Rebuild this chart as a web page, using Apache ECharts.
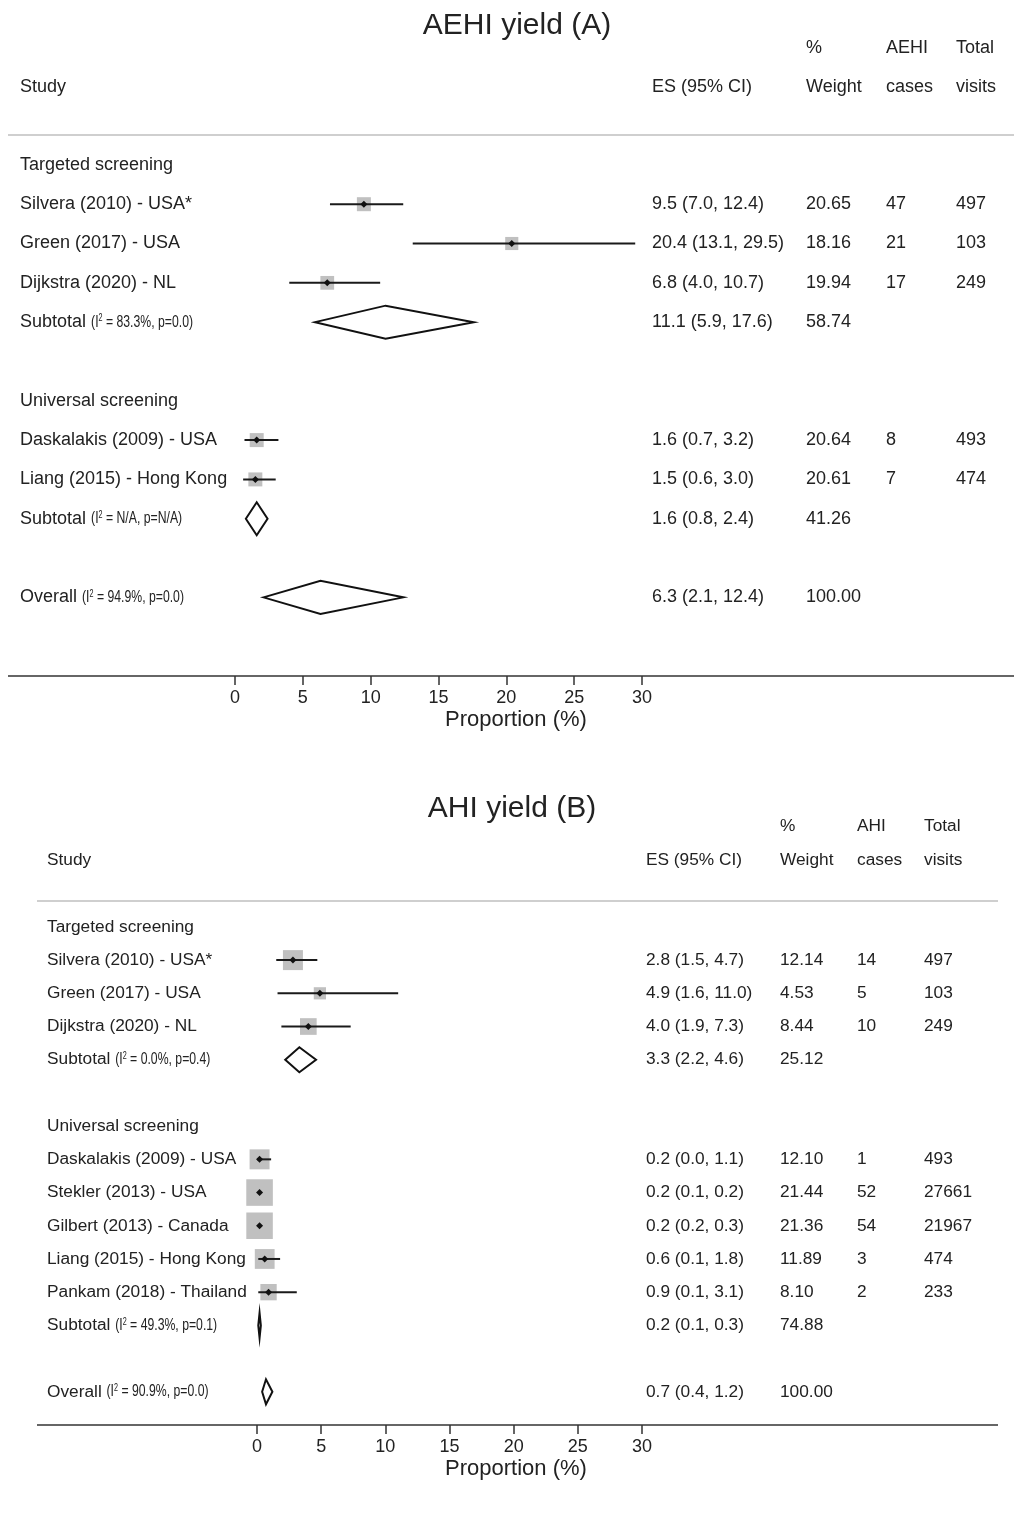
<!DOCTYPE html>
<html>
<head>
<meta charset="utf-8">
<script src="https://cdn.jsdelivr.net/npm/echarts@6/dist/echarts.min.js"></script>
<style>
html, body { margin: 0; background: #fff; }
#main { width: 1014px; height: 1517px; }
</style>
</head>
<body>
<div id="main"></div>
<script>
// ---- AEHI yield (A) ----
var groupsA = ['Targeted screening', 'Universal screening'];
var studiesA = ['Silvera (2010) - USA*', 'Green (2017) - USA', 'Dijkstra (2020) - NL', 'Daskalakis (2009) - USA', 'Liang (2015) - Hong Kong'];
var studyGroupA = [0, 0, 0, 1, 1];
var esA = [9.5, 20.4, 6.8, 1.6, 1.5];
var lowA = [7.0, 13.1, 4.0, 0.7, 0.6];
var highA = [12.4, 29.5, 10.7, 3.2, 3.0];
var weightA = [20.65, 18.16, 19.94, 20.64, 20.61];
var casesA = [47, 21, 17, 8, 7];
var visitsA = [497, 103, 249, 493, 474];
var subEsA = [11.1, 1.6];
var subLowA = [5.9, 0.8];
var subHighA = [17.6, 2.4];
var subWeightA = [58.74, 41.26];
var subI2A = ['83.3%', 'N/A'];
var subPA = ['0.0', 'N/A'];
var overallA = [6.3, 2.1, 12.4];
var overallHetA = ['94.9%', '0.0'];

// ---- AHI yield (B) ----
var groupsB = ['Targeted screening', 'Universal screening'];
var studiesB = ['Silvera (2010) - USA*', 'Green (2017) - USA', 'Dijkstra (2020) - NL', 'Daskalakis (2009) - USA', 'Stekler (2013) - USA', 'Gilbert (2013) - Canada', 'Liang (2015) - Hong Kong', 'Pankam (2018) - Thailand'];
var studyGroupB = [0, 0, 0, 1, 1, 1, 1, 1];
var esB = [2.8, 4.9, 4.0, 0.2, 0.2, 0.2, 0.6, 0.9];
var lowB = [1.5, 1.6, 1.9, 0.0, 0.1, 0.2, 0.1, 0.1];
var highB = [4.7, 11.0, 7.3, 1.1, 0.2, 0.3, 1.8, 3.1];
var weightB = [12.14, 4.53, 8.44, 12.10, 21.44, 21.36, 11.89, 8.10];
var casesB = [14, 5, 10, 1, 52, 54, 3, 2];
var visitsB = [497, 103, 249, 493, 27661, 21967, 474, 233];
var subEsB = [3.3, 0.2];
var subLowB = [2.2, 0.1];
var subHighB = [4.6, 0.3];
var subWeightB = [25.12, 74.88];
var subI2B = ['0.0%', '49.3%'];
var subPB = ['0.4', '0.1'];
var overallB = [0.7, 0.4, 1.2];
var overallHetB = ['90.9%', '0.0'];

var tickValues = [0, 5, 10, 15, 20, 25, 30];

var FONT = "'Liberation Sans', Arial, Helvetica, sans-serif";
var TXT = '#222';
var measure = document.createElement('canvas').getContext('2d');
function textWidth(s, size) {
  measure.font = size + 'px ' + FONT;
  return measure.measureText(s).width;
}

function buildRows(d) {
  var rows = [], r = 0;
  d.groups.forEach(function (g, gi) {
    rows.push({ row: r++, kind: 'group', label: g });
    d.studyGroup.forEach(function (sg, i) {
      if (sg !== gi) return;
      rows.push({ row: r++, kind: 'study', label: d.studies[i], es: d.es[i], lo: d.low[i], hi: d.high[i],
        w: d.weight[i], cases: d.cases[i], visits: d.visits[i] });
    });
    rows.push({ row: r++, kind: 'pool', label: 'Subtotal', i2: d.subI2[gi], p: d.subP[gi],
      es: d.subEs[gi], lo: d.subLow[gi], hi: d.subHigh[gi], w: d.subWeight[gi] });
    r++; // blank line between blocks
  });
  rows.push({ row: r, kind: 'pool', label: 'Overall', i2: d.overallHet[0], p: d.overallHet[1],
    es: d.overall[0], lo: d.overall[1], hi: d.overall[2], w: 100 });
  return rows;
}

var rowsA = buildRows({ groups: groupsA, studies: studiesA, studyGroup: studyGroupA, es: esA, low: lowA, high: highA,
  weight: weightA, cases: casesA, visits: visitsA, subEs: subEsA, subLow: subLowA, subHigh: subHighA,
  subWeight: subWeightA, subI2: subI2A, subP: subPA, overall: overallA, overallHet: overallHetA });
var rowsB = buildRows({ groups: groupsB, studies: studiesB, studyGroup: studyGroupB, es: esB, low: lowB, high: highB,
  weight: weightB, cases: casesB, visits: visitsB, subEs: subEsB, subLow: subLowB, subHigh: subHighB,
  subWeight: subWeightB, subI2: subI2B, subP: subPB, overall: overallB, overallHet: overallHetB });

// layout of each panel (pixels)
var layoutA = { title: 'AEHI yield (A)', casesHead: 'AEHI', titleX: 517, titleY: 26, head1Y: 48, head2Y: 87,
  colStudy: 20, colEs: 652, colW: 806, colC: 886, colV: 956, ruleL: 8, ruleR: 1014, nameX: 516,
  font: 18, boxK: 3.08, diamondH: 16.5 };
var layoutB = { title: 'AHI yield (B)', casesHead: 'AHI', titleX: 512, titleY: 809, head1Y: 826, head2Y: 860,
  colStudy: 47, colEs: 646, colW: 780, colC: 857, colV: 924, ruleL: 37, ruleR: 998, nameX: 516,
  font: 17.3, boxK: 5.74, diamondH: 12.5 };

function txt(x, y, s, size, align) {
  return { type: 'text', x: x, y: y, silent: true,
    style: { text: s, fill: TXT, fontSize: size || 18, fontFamily: FONT,
      align: align || 'left', verticalAlign: 'middle', textAlign: align || 'left', textVerticalAlign: 'middle' } };
}

// condensed "(I² = .., p=..)" part
function hetText(x, y, i2, p) {
  return { type: 'text', x: x, y: y, scaleX: 0.72, silent: true,
    style: { text: '{n|(I}{s|2}{n| = ' + i2 + ', p=' + p + ')}', fill: TXT,
      align: 'left', verticalAlign: 'middle', textAlign: 'left', textVerticalAlign: 'middle',
      rich: { n: { fontSize: 17, fontFamily: FONT, fill: TXT },
              s: { fontSize: 10, fontFamily: FONT, fill: TXT, verticalAlign: 'top' } } } };
}

function rowRenderer(rows, L) {
  return function (params, api) {
    var r = rows[params.dataIndex];
    var y = api.coord([0, r.row])[1];
    var kids = [];
    if (r.kind === 'group') {
      kids.push(txt(L.colStudy, y, r.label, L.font));
      return { type: 'group', children: kids };
    }
    var xc = api.coord([r.es, r.row])[0];
    var xl = api.coord([r.lo, r.row])[0];
    var xh = api.coord([r.hi, r.row])[0];
    if (r.kind === 'study') {
      var s = L.boxK * Math.sqrt(r.w);
      kids.push({ type: 'rect', shape: { x: xc - s / 2, y: y - s / 2, width: s, height: s }, style: { fill: '#c0c0c0' } });
      kids.push({ type: 'line', shape: { x1: xl, y1: y, x2: xh, y2: y }, style: { stroke: '#1a1a1a', lineWidth: 2 } });
      kids.push({ type: 'polygon', shape: { points: [[xc - 3.5, y], [xc, y - 3.5], [xc + 3.5, y], [xc, y + 3.5]] }, style: { fill: '#111' } });
      kids.push(txt(L.colStudy, y, r.label, L.font));
      kids.push(txt(L.colC, y, String(r.cases), L.font));
      kids.push(txt(L.colV, y, String(r.visits), L.font));
    } else {
      var h = L.diamondH;
      kids.push({ type: 'polygon', shape: { points: [[xl, y], [xc, y - h], [xh, y], [xc, y + h]] },
        style: { fill: 'none', stroke: '#111', lineWidth: 2 } });
      kids.push(txt(L.colStudy, y, r.label, L.font));
      kids.push(hetText(L.colStudy + textWidth(r.label + ' ', L.font), y, r.i2, r.p));
    }
    kids.push(txt(L.colEs, y, r.es.toFixed(1) + ' (' + r.lo.toFixed(1) + ', ' + r.hi.toFixed(1) + ')', L.font));
    kids.push(txt(L.colW, y, r.w.toFixed(2), L.font));
    return { type: 'group', children: kids };
  };
}

function frameRenderer(L) {
  return function (params, api) {
    var cs = params.coordSys;
    var top = cs.y, bottom = cs.y + cs.height;
    return { type: 'group', children: [
      { type: 'line', shape: { x1: L.ruleL, y1: top, x2: L.ruleR, y2: top }, style: { stroke: '#cfcfcf', lineWidth: 2 } },
      { type: 'line', shape: { x1: L.ruleL, y1: bottom, x2: L.ruleR, y2: bottom }, style: { stroke: '#333', lineWidth: 1.6 } },
      txt(L.titleX, L.titleY, L.title, 30, 'center'),
      txt(L.colW, L.head1Y, '%', L.font),
      txt(L.colC, L.head1Y, L.casesHead, L.font),
      txt(L.colV, L.head1Y, 'Total', L.font),
      txt(L.colStudy, L.head2Y, 'Study', L.font),
      txt(L.colEs, L.head2Y, 'ES (95% CI)', L.font),
      txt(L.colW, L.head2Y, 'Weight', L.font),
      txt(L.colC, L.head2Y, 'cases', L.font),
      txt(L.colV, L.head2Y, 'visits', L.font),
      txt(L.nameX, bottom + 44, 'Proportion (%)', 22, 'center')
    ] };
  };
}

function xAxisFor(gi) {
  return {
    type: 'value', gridIndex: gi, position: 'bottom',
    min: tickValues[0], max: tickValues[tickValues.length - 1], interval: tickValues[1] - tickValues[0],
    axisLine: { show: false, onZero: false },
    axisTick: { show: true, length: 9, lineStyle: { color: '#333', width: 1.5 } },
    axisLabel: { fontSize: 18, color: TXT, fontFamily: FONT, margin: 13 },
    splitLine: { show: false }
  };
}

function yAxisFor(gi, min, max) {
  return { type: 'value', gridIndex: gi, inverse: true, min: min, max: max, show: false, splitLine: { show: false } };
}

var chart = echarts.init(document.getElementById('main'), null, { renderer: 'canvas' });
chart.setOption({
  animation: false,
  backgroundColor: '#fff',
  grid: [
    { left: 235, right: 372, top: 135, bottom: 841 },
    { left: 257, right: 372, top: 901, bottom: 92 }
  ],
  xAxis: [xAxisFor(0), xAxisFor(1)],
  yAxis: [yAxisFor(0, -0.76, 13), yAxisFor(1, -0.78, 15)],
  series: [
    { type: 'custom', xAxisIndex: 0, yAxisIndex: 0, silent: true, clip: false,
      data: [[0, 0]], renderItem: frameRenderer(layoutA) },
    { type: 'custom', xAxisIndex: 0, yAxisIndex: 0, silent: true, clip: false,
      data: rowsA.map(function (r) { return [r.es || 0, r.row]; }), renderItem: rowRenderer(rowsA, layoutA) },
    { type: 'custom', xAxisIndex: 1, yAxisIndex: 1, silent: true, clip: false,
      data: [[0, 0]], renderItem: frameRenderer(layoutB) },
    { type: 'custom', xAxisIndex: 1, yAxisIndex: 1, silent: true, clip: false,
      data: rowsB.map(function (r) { return [r.es || 0, r.row]; }), renderItem: rowRenderer(rowsB, layoutB) }
  ]
});
</script>
</body>
</html>
